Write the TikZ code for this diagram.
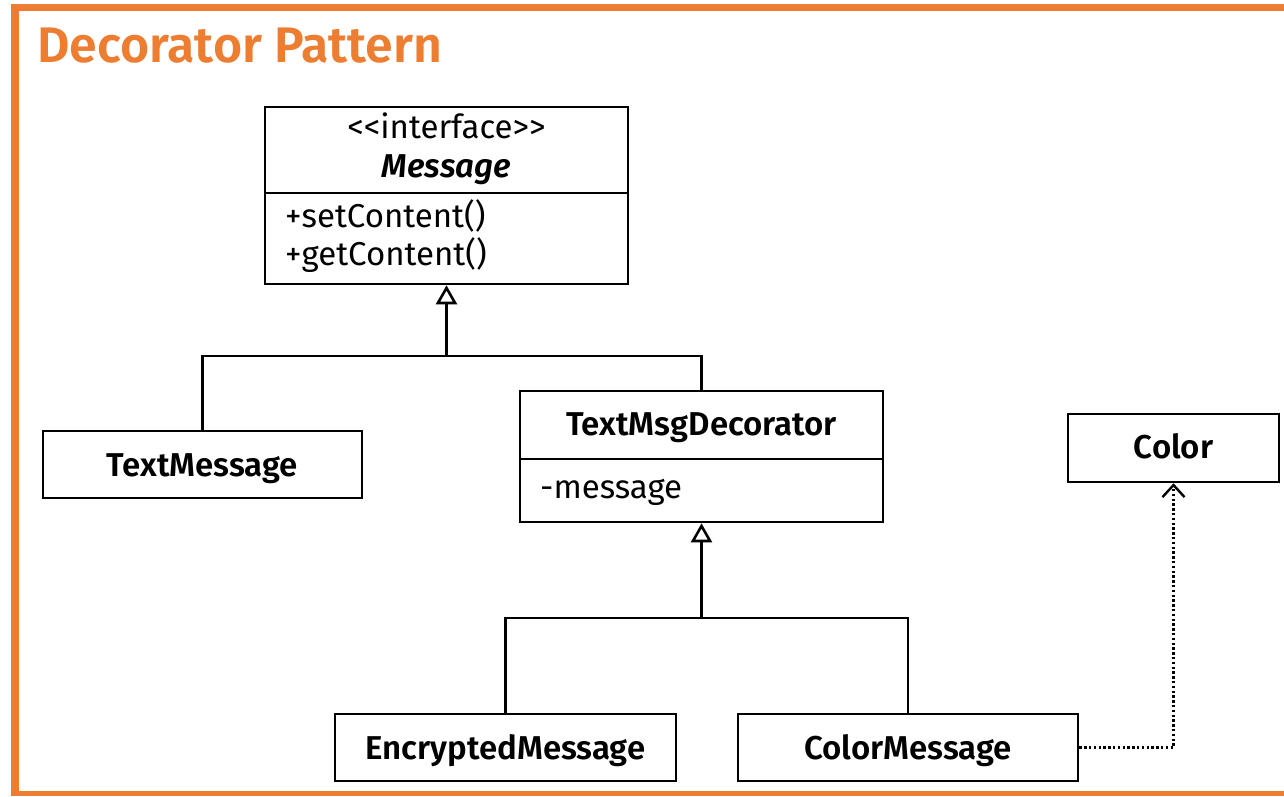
\documentclass[tikz,border=0pt]{standalone}
\usepackage{fontspec}
\setmainfont{Fira Sans}[BoldFont={Fira Sans SemiBold}, BoldItalicFont={Fira Sans SemiBold Italic}]
\usetikzlibrary{arrows.meta}
\definecolor{accent}{RGB}{237,125,49}
\begin{document}
\begin{tikzpicture}[x=1pt,y=-1pt,
  box/.style={draw, line width=2.6pt, rectangle, inner sep=0pt},
  lbl/.style={anchor=base, inner sep=0pt, font=\fontsize{33}{40}\selectfont},
  boldlbl/.style={lbl, font=\fontsize{33}{40}\selectfont\bfseries},
  link/.style={line width=2.6pt},
  inherit/.style={link, -{Triangle[open, length=19pt, width=21pt, fill=white, line width=2.6pt]}},
  depend/.style={line width=2.4pt, dash pattern=on 2.4pt off 2.4pt,
    -{Straight Barb[length=12pt, width=22pt, line width=2.4pt]}},
]
\useasboundingbox (0,0) rectangle (1284,796);

% frame
\fill[accent] (11,4) rectangle (1284,11);
\fill[accent] (11,4) rectangle (19,796);
\fill[accent] (11,791) rectangle (1284,796);

\node[anchor=base west, inner sep=0pt, text=accent,
  font=\fontsize{50}{58}\selectfont\bfseries] (title) at (37,62) {Decorator Pattern};

% interface
\node[box, minimum width=363pt, minimum height=177pt] (msg) at (446.5,195.5) {};
\draw[link] (msg.west |- 0,193) -- (msg.east |- 0,193);
\node[lbl] (msgstereo) at (446.5,138) {<{}<interface>{}>};
\node[boldlbl, font=\fontsize{33}{40}\selectfont\bfseries\itshape] (msgname) at (446.5,177) {Message};
\node[lbl, anchor=base west] (op1) at (285,227) {+setContent()};
\node[lbl, anchor=base west] (op2) at (285,265) {+getContent()};

% concrete component
\node[box, minimum width=319pt, minimum height=67pt] (tm) at (202.5,464.5) {};
\node[boldlbl] (tmname) at (202.5,476) {TextMessage};

% decorator
\node[box, minimum width=363pt, minimum height=131pt] (dec) at (701.5,456.5) {};
\draw[link] (dec.west |- 0,459) -- (dec.east |- 0,459);
\node[boldlbl] (decname) at (701.5,435) {TextMsgDecorator};
\node[lbl, anchor=base west] (decattr) at (540,498) {-message};

% helper class
\node[box, minimum width=211pt, minimum height=68pt] (col) at (1173.5,448) {};
\node[boldlbl] (colname) at (1173.5,458) {Color};

% concrete decorators
\node[box, minimum width=341pt, minimum height=67pt] (em) at (505.5,747.5) {};
\node[boldlbl] (emname) at (505.5,759) {EncryptedMessage};
\node[box, minimum width=340pt, minimum height=67pt] (cm) at (908,747.5) {};
\node[boldlbl] (cmname) at (908,759) {ColorMessage};

% generalisations
\coordinate (j1) at (msg.south |- 0,356);
\draw[link] (tm.north) |- (j1) -| (dec.north);
\draw[inherit] (j1) -- (msg.south);

\coordinate (j2) at (dec.south |- 0,618);
\draw[link] (em.north) |- (j2) -| (cm.north);
\draw[inherit] (j2) -- (dec.south);

% dependency
\draw[depend] (cm.east) -| (col.south);
\end{tikzpicture}
\end{document}
